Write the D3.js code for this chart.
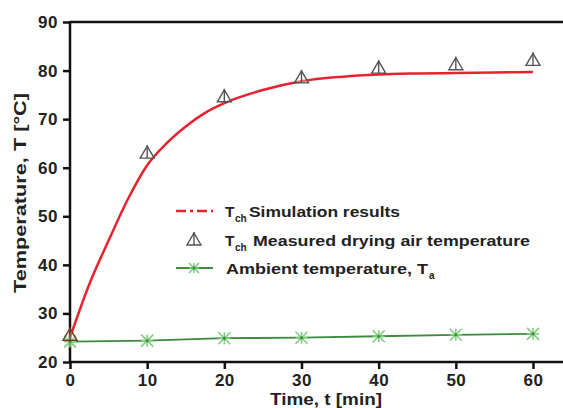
<!DOCTYPE html>
<html><head><meta charset="utf-8">
<script src="https://cdn.jsdelivr.net/npm/d3@7"></script>
<style>body{margin:0;background:#fff}svg{display:block}text{font-family:"Liberation Sans",Arial,sans-serif;font-weight:bold}</style>
</head><body><svg id="c" width="563" height="408"></svg>
<script>
const xTicks=[0,10,20,30,40,50,60];
const yTicks=[20,30,40,50,60,70,80,90];
const simT=[0,2.5,5,7.5,10,12.5,15,17.5,20,25,30,35,40,45,50,55,60];
const simV=[25,36,45,53.5,60.5,65,68.5,71.3,73.3,76,77.8,78.7,79.2,79.4,79.5,79.6,79.7];
const measT=[0,10,20,30,40,50,60];
const measV=[25.5,63,74.6,78.5,80.5,81.2,82.1];
const ambT=[0,10,20,30,40,50,60];
const ambV=[24.2,24.4,24.9,25.0,25.3,25.6,25.8];

const svg=d3.select("#c");
const x=d3.scaleLinear().domain([0,60]).range([70,533]);
const y=d3.scaleLinear().domain([20,90]).range([362,22]);
const red="#e8222e", green="#3d8b3d", lgreen="#7fcf7f";

svg.append("line").attr("x1",70).attr("x2",563).attr("y1",22).attr("y2",22).attr("stroke","#111").attr("stroke-width",2.5);
const xa=svg.append("g").attr("transform","translate(0,362)").call(d3.axisBottom(x).tickValues(xTicks).tickSize(7).tickPadding(5).tickSizeOuter(0));
xa.select(".domain").remove();
svg.append("line").attr("x1",69).attr("x2",563).attr("y1",362).attr("y2",362).attr("stroke","#111").attr("stroke-width",2.5);
const ya=svg.append("g").attr("transform","translate(70,0)").call(d3.axisLeft(y).tickValues(yTicks).tickSize(7).tickPadding(5).tickSizeOuter(0));
ya.select(".domain").remove();
svg.append("line").attr("x1",70).attr("x2",70).attr("y1",21).attr("y2",363).attr("stroke","#111").attr("stroke-width",2.5);
[xa,ya].forEach(g=>{g.selectAll(".tick line").attr("stroke","#111").attr("stroke-width",2.5);
 g.selectAll(".tick text").attr("fill","#222").style("font-size","17px").style("font-weight","bold").style("letter-spacing","0.5px");});

svg.append("path").datum(simT.map((t,i)=>[t,simV[i]]))
 .attr("d",d3.line().x(d=>x(d[0])).y(d=>y(d[1])).curve(d3.curveMonotoneX))
 .attr("fill","none").attr("stroke",red).attr("stroke-width",2.5);

svg.append("path").datum(ambT.map((t,i)=>[t,ambV[i]]))
 .attr("d",d3.line().x(d=>x(d[0])).y(d=>y(d[1])))
 .attr("fill","none").attr("stroke",green).attr("stroke-width",1.8);

function star(g,cx,cy,r){
 const s=g.append("g").attr("transform",`translate(${cx},${cy})`).attr("stroke",lgreen).attr("stroke-width",1.6);
 [[-r,-r,r,r],[-r,r,r,-r],[-r,0,r,0],[0,-r,0,r]].forEach(l=>s.append("line").attr("x1",l[0]).attr("y1",l[1]).attr("x2",l[2]).attr("y2",l[3]));
 s.append("circle").attr("r",1.5).attr("fill",green).attr("stroke","none");
}
ambT.forEach((t,i)=>star(svg,x(t),y(ambV[i]),6));

function tri(g,cx,cy,col){
 const s=g.append("g").attr("transform",`translate(${cx},${cy})`).attr("fill","none").attr("stroke",col).attr("stroke-width",1.4);
 s.append("path").attr("d","M0,-7L7,5L-7,5Z").attr("fill","rgba(255,255,255,0.3)");
 s.append("line").attr("x1",0).attr("x2",0).attr("y1",-8).attr("y2",5);
}
measT.forEach((t,i)=>tri(svg,x(t),y(measV[i]),i==0?"#6b3a20":"#555"));

const lg=svg.append("g");
lg.append("line").attr("x1",176).attr("x2",213).attr("y1",211).attr("y2",211).attr("stroke",red).attr("stroke-width",2.5).attr("stroke-dasharray","10,4,3,4");
tri(lg,194,240,"#555");
lg.append("line").attr("x1",176).attr("x2",213).attr("y1",268).attr("y2",268).attr("stroke",green).attr("stroke-width",1.8);
star(lg,194,268,5);
function txt(xx,yy,s,size,len){
 const t=lg.append("text").attr("x",xx).attr("y",yy).attr("fill","#222").style("font-size",size+"px").text(s);
 if(len) t.attr("textLength",len).attr("lengthAdjust","spacingAndGlyphs");
 return t;
}
txt(225,217,"T",15.5); txt(235,222,"ch",10);
txt(249,217,"Simulation results",15.5,151);
txt(225,246,"T",15.5); txt(235,251,"ch",10);
txt(253,246,"Measured drying air temperature",15.5,277);
txt(226,274,"Ambient temperature, T",15.5,202);
txt(429,279,"a",10);

svg.append("text").attr("transform","translate(26,193) rotate(-90)").attr("text-anchor","middle").attr("fill","#222").style("font-size","17px").attr("textLength",200).attr("lengthAdjust","spacingAndGlyphs").text("Temperature, T [°C]");
svg.append("text").attr("x",326).attr("y",405).attr("text-anchor","middle").attr("fill","#222").style("font-size","17px").attr("textLength",112).attr("lengthAdjust","spacingAndGlyphs").text("Time, t [min]");
</script></body></html>
